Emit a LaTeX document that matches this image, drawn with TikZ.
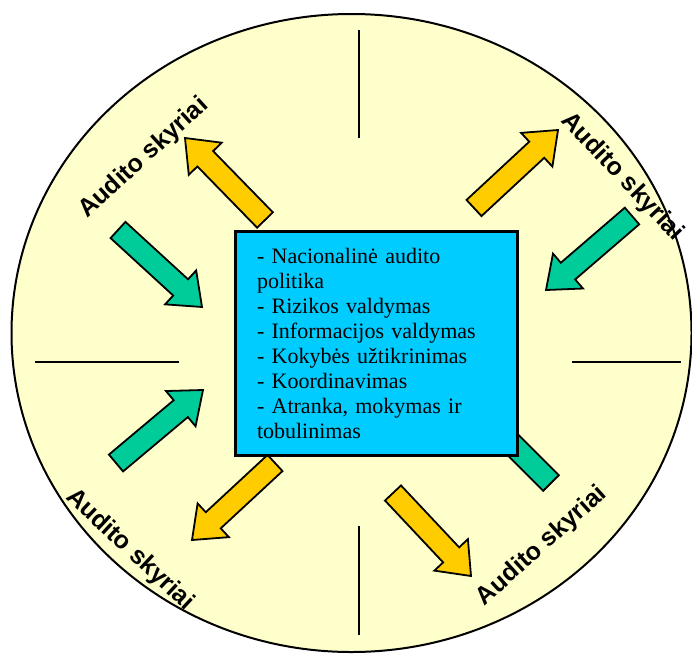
\documentclass[tikz,border=0pt]{standalone}
\usepackage{fontspec}
\setmainfont{Liberation Serif}
\newfontfamily\labelfont{Liberation Sans}
\usetikzlibrary{calc}

\definecolor{discfill}{HTML}{FFFFCC}
\definecolor{boxfill}{HTML}{00CCFF}
\definecolor{outgold}{HTML}{FFCC00}
\definecolor{ingreen}{HTML}{00CC99}

% block arrow from tail (#2) to tip (#3), filled with colour #1
\newcommand\blockarr[3]{%
  \coordinate (hb) at ($(#3)!29pt!(#2)$);
  \filldraw[fill=#1, arrowline]
    ($(#2)!11pt!90:(#3)$) -- ($(hb)!11pt!90:(#3)$) -- ($(hb)!23pt!90:(#3)$)
    -- (#3)
    -- ($(hb)!23pt!-90:(#3)$) -- ($(hb)!11pt!-90:(#3)$) -- ($(#2)!11pt!-90:(#3)$)
    -- cycle;
}

\tikzset{
  arrowline/.style={draw=black, line width=1.8pt, line join=miter},
  divider/.style={draw=black, line width=1.3pt},
  unitlabel/.style={font=\labelfont\bfseries\fontsize{25}{28}\selectfont, inner sep=0pt},
  centrebox/.style={draw=black, line width=3pt, fill=boxfill,
    minimum width=282pt, minimum height=224pt, inner xsep=22pt, inner ysep=0pt,
    text width=238pt, align=left, font=\fontsize{22}{25}\selectfont}
}

\begin{document}
\begin{tikzpicture}[x=1pt, y=-1pt]
  \useasboundingbox (0,0) rectangle (692,653);

  % outer disc
  \filldraw[fill=discfill, draw=black, line width=2pt] (351.5,333) ellipse [x radius=340, y radius=319];

  % quadrant dividers
  \draw[divider, line width=2pt] (359,30) -- (359,138);
  \draw[divider, line width=2pt] (359,526) -- (359,635);
  \draw[divider] (35,362) -- (179,362);
  \draw[divider] (572,362) -- (681,362);

  % arrow end points
  \coordinate (a1t) at (265,220); \coordinate (a1h) at (185,138);
  \coordinate (a2t) at (118,230); \coordinate (a2h) at (202,307);
  \coordinate (a3t) at (474,208); \coordinate (a3h) at (558,130);
  \coordinate (a4t) at (632,216); \coordinate (a4h) at (546,290);
  \coordinate (a5t) at (116,463); \coordinate (a5h) at (203,390);
  \coordinate (a6t) at (275,463); \coordinate (a6h) at (192,540);
  \coordinate (a7t) at (551,483); \coordinate (a7h) at (471,403);
  \coordinate (a8t) at (393,493); \coordinate (a8h) at (471,576);

  \blockarr{outgold}{a1t}{a1h}
  \blockarr{ingreen}{a2t}{a2h}
  \blockarr{outgold}{a3t}{a3h}
  \blockarr{ingreen}{a4t}{a4h}
  \blockarr{ingreen}{a5t}{a5h}
  \blockarr{outgold}{a6t}{a6h}
  \blockarr{ingreen}{a7t}{a7h}
  \blockarr{outgold}{a8t}{a8h}

  % department labels
  \node[unitlabel, rotate=42.5] (unitTL) at (144,158) {Audito skyriai};
  \node[unitlabel, rotate=-46.5] (unitTR) at (622,177) {Audito skyriai};
  \node[unitlabel, rotate=-43] (unitBL) at (130,550) {Audito skyriai};
  \node[unitlabel, rotate=42] (unitBR) at (542,546) {Audito skyriai};

  % central functions box
  \node[centrebox] (centre) at (376,343) {%
    - Nacionalinė audito\\
    politika\\
    - Rizikos valdymas\\
    - Informacijos valdymas\\
    - Kokybės užtikrinimas\\
    - Koordinavimas\\
    - Atranka, mokymas ir\\
    tobulinimas};
\end{tikzpicture}
\end{document}
